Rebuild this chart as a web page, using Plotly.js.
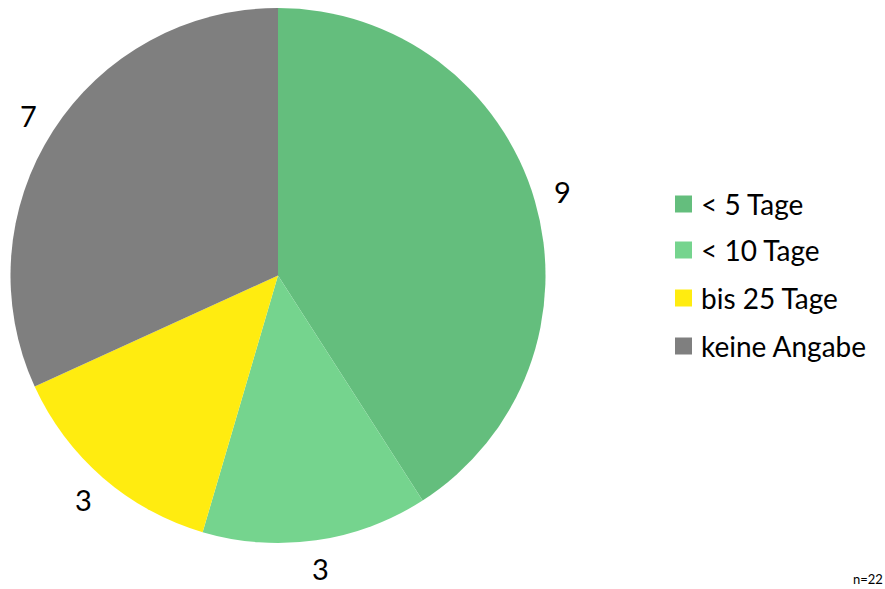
<!DOCTYPE html>
<html>
<head>
<meta charset="utf-8">
<script src="https://cdn.plot.ly/plotly-3.0.1.min.js"></script>
<style>html,body{margin:0;padding:0;background:#fff}#chart{width:885px;height:589px}</style>
</head>
<body>
<div id="chart"></div>
<script>
const categories = ["< 5 Tage", "< 10 Tage", "bis 25 Tage", "keine Angabe"];
const values = [9, 3, 3, 7];
const colors = ["#64BE7D", "#75D48E", "#FFEC10", "#7F7F7F"];
const noteText = "n=22";

const W = 885, H = 589;
const px = x => x / W;
const py = y => 1 - y / H;
const FONT = "Lato, Carlito, sans-serif";

// pie geometry (pixels)
const cx = 278, cy = 275.5, R = 267.5;

const trace = {
  type: "pie",
  labels: categories,
  values: values,
  sort: false,
  direction: "clockwise",
  rotation: 0,
  marker: { colors: colors, line: { width: 0 } },
  textinfo: "none",
  domain: { x: [px(cx - R), px(cx + R)], y: [py(cy + R), py(cy - R)] },
  automargin: false,
  hoverinfo: "label+value"
};

const shapes = [];
const annotations = [];

// value labels outside the slices, placed at each slice's mid-angle
const total = values.reduce((a, b) => a + b, 0);
let cum = 0;
values.forEach(v => {
  const mid = (cum + v / 2) / total * 2 * Math.PI;
  cum += v;
  const r = R + 29;
  annotations.push({
    xref: "paper", yref: "paper",
    x: px(cx + r * Math.sin(mid)), y: py(cy - r * Math.cos(mid)),
    xanchor: "center", yanchor: "middle", showarrow: false,
    text: String(v), font: { family: FONT, size: 29, color: "#000" }
  });
});

// legend
const legY = [204, 250, 298, 346];
categories.forEach((c, i) => {
  shapes.push({
    type: "rect", xref: "paper", yref: "paper",
    x0: px(675), x1: px(692), y0: py(legY[i] + 8.5), y1: py(legY[i] - 8.5),
    fillcolor: colors[i], line: { width: 0 }
  });
  annotations.push({
    xref: "paper", yref: "paper", x: px(699), y: py(legY[i]),
    xanchor: "left", yanchor: "middle", showarrow: false,
    text: c, font: { family: FONT, size: 28, color: "#000" }
  });
});
annotations.push({
  xref: "paper", yref: "paper", x: px(885), y: py(579),
  xanchor: "right", yanchor: "middle", showarrow: false,
  text: noteText, font: { family: FONT, size: 13, color: "#000" }
});

const layout = {
  width: W, height: H,
  margin: { l: 0, r: 0, t: 0, b: 0 },
  paper_bgcolor: "#fff",
  showlegend: false,
  shapes: shapes,
  annotations: annotations
};

Plotly.newPlot("chart", [trace], layout, { displayModeBar: false, staticPlot: true });
</script>
</body>
</html>
